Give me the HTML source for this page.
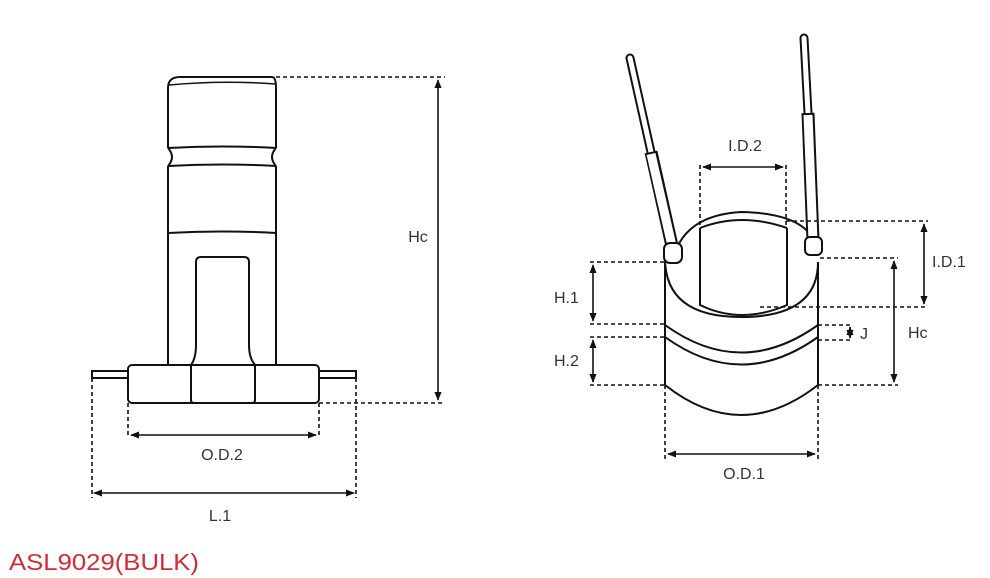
<!DOCTYPE html>
<html><head><meta charset="utf-8"><style>
html,body{margin:0;padding:0;background:#fff;width:990px;height:578px;overflow:hidden}
svg{display:block}
text{font-family:"Liberation Sans","DejaVu Sans",sans-serif;fill:#333}
</style></head><body>
<svg width="990" height="578" viewBox="0 0 990 578" xmlns="http://www.w3.org/2000/svg">
<defs>
<marker id="a" viewBox="0 0 10 10" refX="9" refY="5" markerWidth="9" markerHeight="9" orient="auto-start-reverse" markerUnits="userSpaceOnUse"><path d="M0,1 L10,5 L0,9 z" fill="#111"/></marker>
</defs>
<g fill="none" stroke="#111" stroke-width="2">
<!-- left part -->
<path d="M168,148 V88 Q168,77 180,77 H272 Q276,77 276,88 V148"/>
<path d="M169,85 Q222,80 275,84" stroke-width="1.5"/>
<path d="M168,148 Q222,145 276,148"/>
<path d="M168,148 Q176,157 168,166 M276,148 Q268,157 276,166"/>
<path d="M168,166 Q222,163 276,166"/>
<path d="M168,166 V365 M276,166 V365"/>
<path d="M168,233 Q222,230 276,233"/>
<path d="M191,365 Q196,358 196,345 V262 Q196,257 201,257 H244 Q249,257 249,262 V345 Q249,358 255,365"/>
<rect x="128" y="365" width="191" height="38" rx="4"/>
<path d="M191,365 V400 Q191,403 194,403 H252 Q255,403 255,400 V365"/>
<path d="M128,371 H92 V378 H128 M319,371 H356 V378 H319"/>
</g>
<g fill="none" stroke="#111" stroke-width="1.6" stroke-dasharray="4,3">
<path d="M276,77 H445 M319,403 H445"/>
<path d="M128,403 V438 M319,403 V438"/>
<path d="M92,378 V498 M356,378 V498"/>
</g>
<g stroke="#111" stroke-width="1.6">
<line x1="438" y1="80" x2="438" y2="400" marker-start="url(#a)" marker-end="url(#a)"/>
<line x1="131" y1="435" x2="316" y2="435" marker-start="url(#a)" marker-end="url(#a)"/>
<line x1="94" y1="493" x2="354" y2="493" marker-start="url(#a)" marker-end="url(#a)"/>
</g>
<text x="418" y="242" font-size="16" text-anchor="middle">Hc</text>
<text x="222" y="460" font-size="16" text-anchor="middle">O.D.2</text>
<text x="220" y="521" font-size="16" text-anchor="middle">L.1</text>

<!-- right part -->
<g fill="none" stroke="#111" stroke-width="2">
<path d="M665,262 V385 M818,262 V385"/>
<path d="M676,250 Q690,215 741,212 Q800,213 814,240"/>
<path d="M665,258 Q665,317 741,317 Q818,317 818,262"/>
<path d="M700,228 Q741,212 787,228"/>
<path d="M700,228 V305 Q741,325 787,305 V228"/>
<path d="M665,325 Q741,380 818,325"/>
<path d="M665,337 Q741,392 818,337"/>
<path d="M665,385 Q741,445 818,385"/>
</g>
<!-- wires as outlined tubes -->
<g fill="none" stroke-linecap="round">
<line x1="630" y1="58" x2="651" y2="152" stroke="#111" stroke-width="9"/>
<line x1="630" y1="58" x2="651" y2="152" stroke="#fff" stroke-width="5"/>
<line x1="651" y1="152" x2="672" y2="246" stroke="#111" stroke-width="13" stroke-linecap="butt"/>
<line x1="651" y1="154" x2="672" y2="246" stroke="#fff" stroke-width="9" stroke-linecap="butt"/>
<line x1="804" y1="38" x2="808" y2="113" stroke="#111" stroke-width="9"/>
<line x1="804" y1="38" x2="808" y2="113" stroke="#fff" stroke-width="5"/>
<line x1="808" y1="113" x2="813" y2="240" stroke="#111" stroke-width="13" stroke-linecap="butt"/>
<line x1="808" y1="115" x2="813" y2="240" stroke="#fff" stroke-width="9" stroke-linecap="butt"/>
</g>
<g fill="#fff" stroke="#111" stroke-width="2">
<rect x="664" y="243" width="18" height="20" rx="6"/>
<rect x="805" y="237" width="17" height="18" rx="5"/>
</g>
<g fill="none" stroke="#111" stroke-width="1.6" stroke-dasharray="4,3">
<path d="M700,165 V228 M786,165 V228"/>
<path d="M786,221 H928 M760,307 H928"/>
<path d="M820,258 H898 M818,385 H898"/>
<path d="M590,262 H665 M590,324 H665 M590,337 H665 M590,385 H665"/>
<path d="M818,325 H850 M818,340 H850"/>
<path d="M665,385 V460 M818,385 V460"/>
</g>
<g stroke="#111" stroke-width="1.6">
<line x1="703" y1="167" x2="783" y2="167" marker-start="url(#a)" marker-end="url(#a)"/>
<line x1="924" y1="224" x2="924" y2="304" marker-start="url(#a)" marker-end="url(#a)"/>
<line x1="894" y1="261" x2="894" y2="382" marker-start="url(#a)" marker-end="url(#a)"/>
<line x1="593" y1="265" x2="593" y2="321" marker-start="url(#a)" marker-end="url(#a)"/>
<line x1="593" y1="340" x2="593" y2="382" marker-start="url(#a)" marker-end="url(#a)"/>
<line x1="850" y1="327" x2="850" y2="338" marker-start="url(#a)" marker-end="url(#a)"/>
<line x1="668" y1="454" x2="815" y2="454" marker-start="url(#a)" marker-end="url(#a)"/>
</g>
<text x="745" y="151" font-size="16" text-anchor="middle">I.D.2</text>
<text x="932" y="267" font-size="16">I.D.1</text>
<text x="908" y="338" font-size="16">Hc</text>
<text x="554" y="303" font-size="16">H.1</text>
<text x="554" y="366" font-size="16">H.2</text>
<text x="860" y="339" font-size="16">J</text>
<text x="744" y="479" font-size="16" text-anchor="middle">O.D.1</text>

<text x="9" y="570" font-size="23" textLength="190" lengthAdjust="spacingAndGlyphs" style="fill:#d42a34">ASL9029(BULK)</text>
</svg>
</body></html>
